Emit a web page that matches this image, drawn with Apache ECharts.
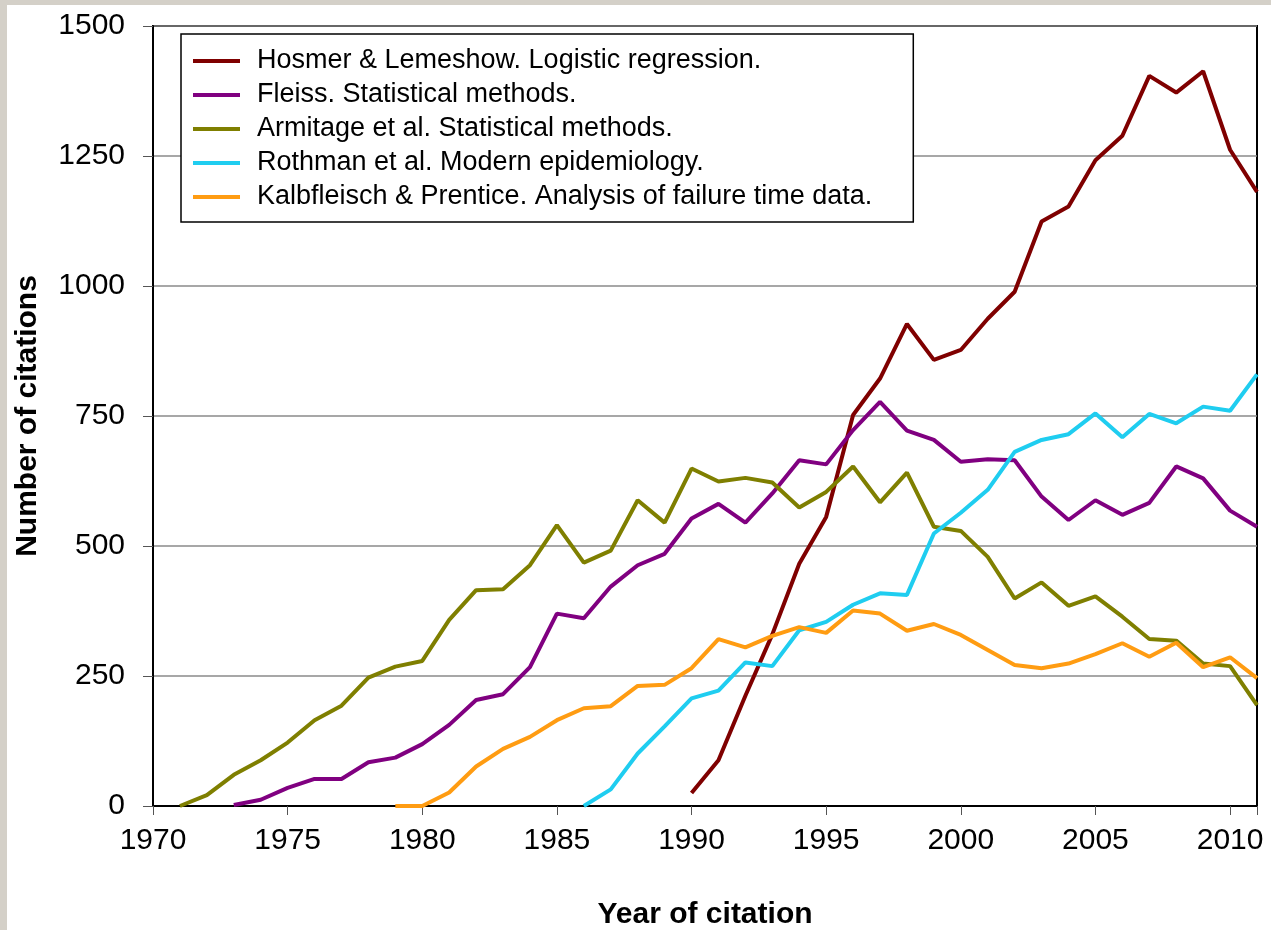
<!DOCTYPE html>
<html>
<head>
<meta charset="utf-8">
<script src="https://cdn.jsdelivr.net/npm/echarts@6/dist/echarts.min.js"></script>
<style>
  html, body { margin: 0; padding: 0; background: #d4d0c8; }
  #chart { position: absolute; left: 7px; top: 5px; width: 1264px; height: 925px; background: #fff; }
</style>
</head>
<body>
<div id="chart"></div>
<script>
// year ticks / value ticks
const xMin = 1970, xMax = 2011, xStep = 5;
const yMin = 0, yMax = 1500, yStep = 250;

const names = [
  'Hosmer & Lemeshow. Logistic regression.',
  'Fleiss. Statistical methods.',
  'Armitage et al. Statistical methods.',
  'Rothman et al. Modern epidemiology.',
  'Kalbfleisch & Prentice. Analysis of failure time data.'
];
const colors = ['#7f0000', '#800080', '#7f7f00', '#1fcdf0', '#ff9c12'];

// first year of each series
const startYears = [1990, 1973, 1971, 1986, 1979];

const hosmer = [25, 88, 212, 330, 466, 556, 752, 822, 927, 858, 877, 937, 989, 1124, 1153,
  1242, 1289, 1404, 1372, 1413, 1262, 1181];
const fleiss = [2, 12, 35, 52, 52, 84, 93, 119, 156, 204, 215, 267, 370, 361, 422, 463, 485,
  553, 581, 545, 601, 665, 657, 723, 777, 722, 704, 662, 667, 665, 595, 550, 588, 560, 583,
  653, 630, 568, 537];
const armitage = [0, 21, 60, 88, 122, 165, 193, 247, 268, 279, 358, 415, 417, 463, 540, 468,
  491, 588, 545, 649, 624, 631, 622, 574, 604, 653, 584, 641, 537, 529, 479, 399, 430, 385,
  403, 364, 321, 318, 274, 269, 194];
const rothman = [0, 32, 101, 153, 207, 222, 276, 269, 338, 354, 387, 409, 406, 524, 564, 608,
  681, 704, 715, 755, 709, 754, 736, 768, 760, 830];
const kalbfleisch = [0, 0, 26, 76, 110, 133, 165, 188, 192, 231, 233, 265, 321, 305, 327, 344,
  333, 376, 370, 337, 350, 329, 300, 271, 265, 274, 292, 313, 287, 314, 267, 286, 246];

const values = [hosmer, fleiss, armitage, rothman, kalbfleisch];
const font = '"Liberation Sans", Arial, sans-serif';

const series = values.map(function (vals, i) {
  return {
    name: names[i],
    type: 'line',
    symbol: 'none',
    color: colors[i],
    lineStyle: { width: 4, color: colors[i] },
    data: vals.map(function (v, k) { return [startYears[i] + k, v]; })
  };
});

const chart = echarts.init(document.getElementById('chart'));
chart.setOption({
  animation: false,
  textStyle: { fontFamily: font },
  grid: {
    left: 146, right: 14, top: 21, bottom: 124,
    outerBoundsMode: 'none', containLabel: false,
    show: true, borderColor: '#000', borderWidth: 2
  },
  legend: {
    orient: 'vertical',
    left: 174,
    top: 29,
    backgroundColor: '#fff',
    borderColor: '#000',
    borderWidth: 1.5,
    borderRadius: 0,
    padding: [12, 41, 10, 12],
    icon: 'rect',
    itemWidth: 47,
    itemHeight: 4,
    itemGap: 4,
    textStyle: { fontSize: 27, color: '#000', fontFamily: font, lineHeight: 30, padding: [0, 0, 0, 12] },
    data: names
  },
  xAxis: {
    type: 'value',
    min: xMin,
    max: xMax,
    interval: xStep,
    name: 'Year of citation',
    nameLocation: 'middle',
    nameGap: 94,
    nameTextStyle: { fontSize: 30, fontWeight: 'bold', color: '#000' },
    axisLine: { lineStyle: { color: '#000', width: 2 } },
    axisTick: { length: 9, lineStyle: { color: '#555' } },
    axisLabel: {
      fontSize: 30, color: '#000', margin: 20,
      formatter: function (v) { return v % xStep === 0 ? String(v) : ''; }
    },
    splitLine: { show: false }
  },
  yAxis: {
    type: 'value',
    min: yMin,
    max: yMax,
    interval: yStep,
    name: 'Number of citations',
    nameLocation: 'middle',
    nameGap: 110,
    nameTextStyle: { fontSize: 30, fontWeight: 'bold', color: '#000' },
    axisLine: { show: true, lineStyle: { color: '#000', width: 2 } },
    axisTick: { show: true, length: 10, lineStyle: { color: '#555' } },
    axisLabel: { fontSize: 30, color: '#000', margin: 28, formatter: function (v) { return String(v); } },
    splitLine: { lineStyle: { color: '#8a8a8a', width: 1.5 } }
  },
  series: series
});
</script>
</body>
</html>
